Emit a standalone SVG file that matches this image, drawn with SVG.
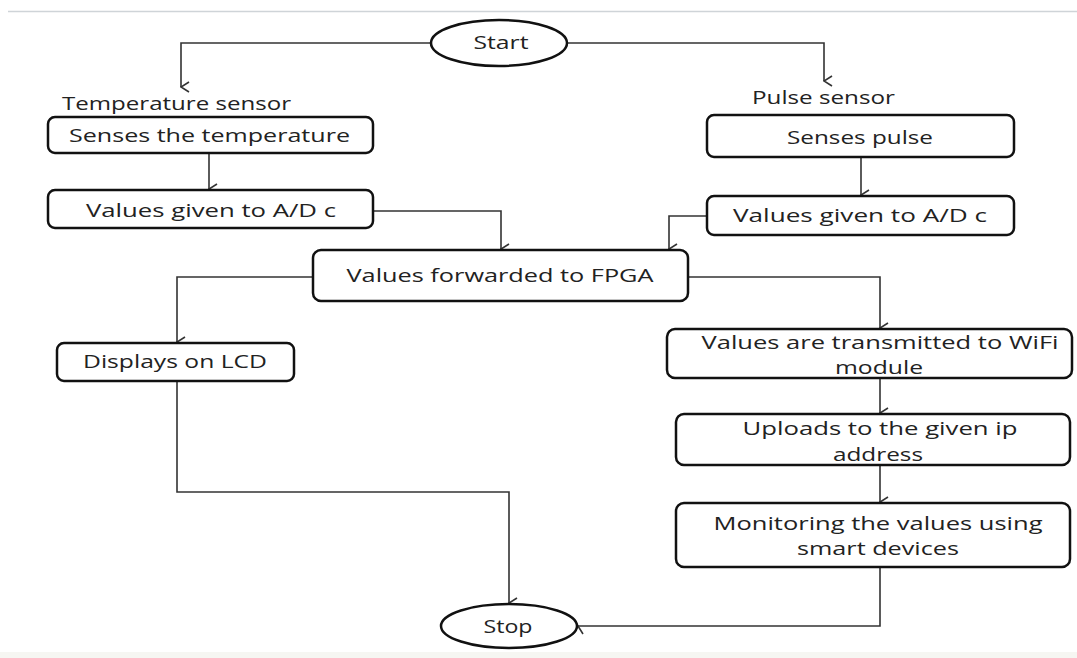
<svg xmlns="http://www.w3.org/2000/svg" width="1077" height="658" viewBox="0 0 1077 658">
<style>
.box{fill:#fff;stroke:#111;stroke-width:2.5}
.term{fill:#fff;stroke:#111;stroke-width:2.5}
.lbl{font-family:"Open Sans","Liberation Sans",sans-serif;font-size:19px;fill:#222;text-anchor:middle}
.free{font-family:"Open Sans","Liberation Sans",sans-serif;font-size:19px;fill:#222}
.conn{fill:none;stroke:#333;stroke-width:1.6;marker-end:url(#arr)}
</style>
<defs>
<marker id="arr" markerUnits="userSpaceOnUse" markerWidth="12" markerHeight="10" refX="5" refY="9" orient="auto-start-reverse" viewBox="0 0 10 10">
<path d="M0,1 L5,9 L10,1" fill="none" stroke="#333" stroke-width="1.6"/>
</marker>
</defs>
<rect width="1077" height="658" fill="#fff"/>
<line x1="8" y1="11.5" x2="1077" y2="11.5" stroke="#cfd4d8" stroke-width="1.5"/>
<rect x="0" y="652" width="1077" height="6" fill="#f6f6f2"/>
<g id="connectors">
<polyline class="conn" points="431,43 181,43 181,87"/>
<polyline class="conn" points="567,43 824,43 824,81"/>
<polyline class="conn" points="209,153 209,189"/>
<polyline class="conn" points="373,211 501,211 501,249"/>
<polyline class="conn" points="861,157 861,195"/>
<polyline class="conn" points="707,216 669,216 669,249"/>
<polyline class="conn" points="313,277 177,277 177,342"/>
<polyline class="conn" points="688,277 880,277 880,328"/>
<polyline class="conn" points="880,378 880,413"/>
<polyline class="conn" points="880,465 880,502"/>
<polyline class="conn" points="880,567 880,626 578,626"/>
<polyline class="conn" points="177,381 177,492 509,492 509,603"/>
</g>
<g id="start">
<ellipse class="term" cx="499" cy="43" rx="68" ry="23"/>
<text class="lbl" x="501" y="49" textLength="55" lengthAdjust="spacingAndGlyphs">Start</text>
</g>
<g id="temp-label">
<text class="free" x="62" y="110" textLength="229" lengthAdjust="spacingAndGlyphs">Temperature sensor</text>
</g>
<g id="senses-temp">
<rect class="box" x="48" y="117" width="325" height="36" rx="7"/>
<text class="lbl" x="209.5" y="142" textLength="281" lengthAdjust="spacingAndGlyphs">Senses the temperature</text>
</g>
<g id="adc-left">
<rect class="box" x="48" y="190" width="325" height="38" rx="7"/>
<text class="lbl" x="211" y="217" textLength="250" lengthAdjust="spacingAndGlyphs">Values given to A/D  c</text>
</g>
<g id="pulse-label">
<text class="free" x="752" y="104" textLength="143" lengthAdjust="spacingAndGlyphs">Pulse sensor</text>
</g>
<g id="senses-pulse">
<rect class="box" x="707" y="115" width="307" height="42" rx="7"/>
<text class="lbl" x="860" y="144" textLength="146" lengthAdjust="spacingAndGlyphs">Senses pulse</text>
</g>
<g id="adc-right">
<rect class="box" x="707" y="196" width="307" height="39" rx="7"/>
<text class="lbl" x="860" y="222" textLength="254" lengthAdjust="spacingAndGlyphs">Values given to A/D  c</text>
</g>
<g id="fpga">
<rect class="box" x="313" y="250" width="375" height="51" rx="8"/>
<text class="lbl" x="500" y="282" textLength="307" lengthAdjust="spacingAndGlyphs">Values forwarded to FPGA</text>
</g>
<g id="lcd">
<rect class="box" x="57" y="343" width="237" height="38" rx="7"/>
<text class="lbl" x="175" y="368" textLength="184" lengthAdjust="spacingAndGlyphs">Displays on LCD</text>
</g>
<g id="wifi">
<rect class="box" x="667" y="329" width="405" height="49" rx="8"/>
<text class="lbl" x="880" y="349" textLength="357" lengthAdjust="spacingAndGlyphs">Values are transmitted to WiFi</text>
<text class="lbl" x="879" y="374" textLength="88" lengthAdjust="spacingAndGlyphs">module</text>
</g>
<g id="upload">
<rect class="box" x="676" y="414" width="394" height="51" rx="8"/>
<text class="lbl" x="880" y="435" textLength="275" lengthAdjust="spacingAndGlyphs">Uploads to the given ip</text>
<text class="lbl" x="878" y="461" textLength="90" lengthAdjust="spacingAndGlyphs">address</text>
</g>
<g id="monitor">
<rect class="box" x="676" y="503" width="394" height="64" rx="8"/>
<text class="lbl" x="878" y="530" textLength="329" lengthAdjust="spacingAndGlyphs">Monitoring the values using</text>
<text class="lbl" x="878" y="555" textLength="162" lengthAdjust="spacingAndGlyphs">smart devices</text>
</g>
<g id="stop">
<ellipse class="term" cx="509" cy="626" rx="68" ry="22"/>
<text class="lbl" x="508" y="633" textLength="49" lengthAdjust="spacingAndGlyphs">Stop</text>
</g>
</svg>
